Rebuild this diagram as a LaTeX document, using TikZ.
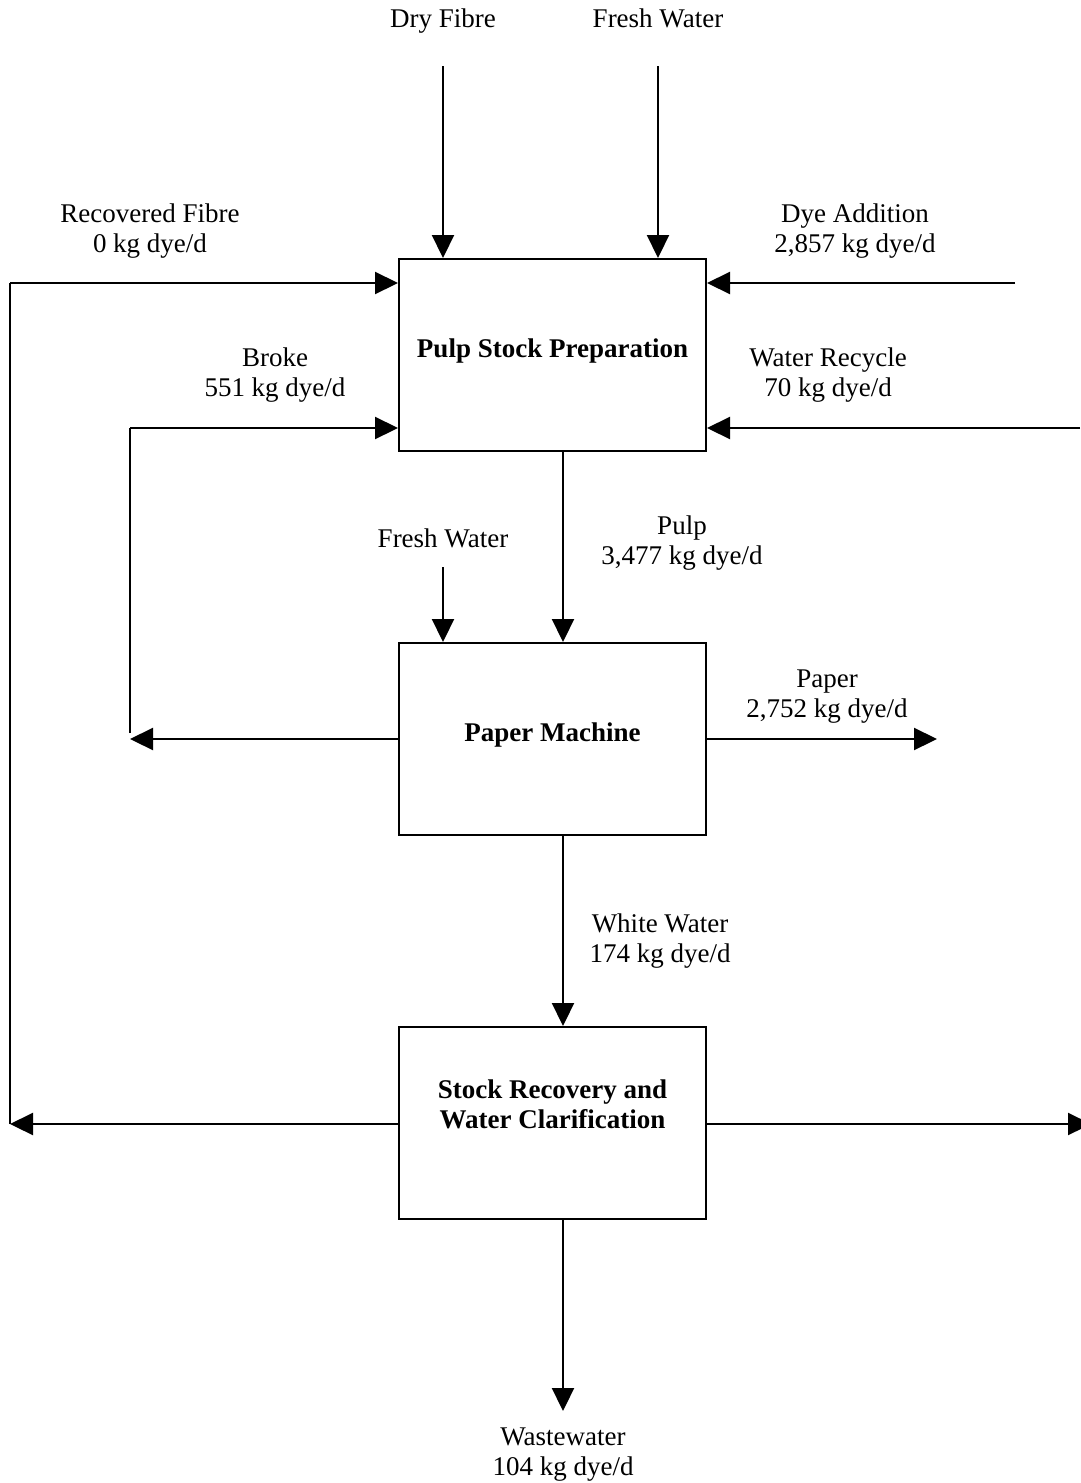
\documentclass[tikz,border=0pt]{standalone}
\usepackage{fontspec}
\setmainfont{Liberation Serif}
\usetikzlibrary{arrows.meta}
\begin{document}
\begin{tikzpicture}[x=1pt,y=-1pt,
  proc/.style={draw,line width=2pt,minimum width=307pt,minimum height=192pt,inner sep=0pt},
  ptext/.style={align=center,inner sep=0pt,yshift=-3pt,font=\fontsize{27}{30}\selectfont\bfseries},
  lbl/.style={align=center,inner sep=0pt,yshift=-3pt,font=\fontsize{27}{30}\selectfont},
  one/.style={lbl,text height=19pt,text depth=6pt,yshift=2pt},
  flow/.style={line width=2.2pt,-{Triangle[length=23pt,width=22pt]}},
  plain/.style={line width=2.2pt}]
\fill[white] (0,0) rectangle (1080,1483);
\useasboundingbox (0,0) rectangle (1080,1483);
% boxes
\node[proc] (psp) at (552.5,355) {};
\node[proc] (pm) at (552.5,739) {};
\node[proc] (sr) at (552.5,1123) {};
\node[ptext] (tpsp) at (552.5,348) {Pulp Stock Preparation};
\node[ptext] (tpm) at (552.5,732) {Paper Machine};
\node[ptext] (tsr) at (552.5,1101) {Stock Recovery and\\Water Clarification};
% coordinates
\coordinate (dfs) at (443,66);
\coordinate (fws) at (658,66);
\coordinate (rfb) at (10,1124);
\coordinate (rft) at (10,283);
\coordinate (das) at (1015,283);
\coordinate (brb) at (130,739);
\coordinate (brt) at (130,428);
\coordinate (wrs) at (1080,428);
\coordinate (fw2) at (443,567);
\coordinate (ppe) at (937,739);
\coordinate (sre) at (1091,1124);
\coordinate (wwe) at (563,1411);
% labels
\node[one] (ldf) at (443,20) {Dry Fibre};
\node[one] (lfw) at (658,20) {Fresh Water};
\node[lbl] (lrf) at (150,228) {Recovered Fibre\\0 kg dye/d};
\node[lbl] (lda) at (855,228) {Dye Addition\\2,857 kg dye/d};
\node[lbl] (lbr) at (275,372) {Broke\\551 kg dye/d};
\node[lbl] (lwr) at (828,372) {Water Recycle\\70 kg dye/d};
\node[one] (lfw2) at (443,540) {Fresh Water};
\node[lbl] (lpu) at (682,540) {Pulp\\3,477 kg dye/d};
\node[lbl] (lpa) at (827,694) {Paper\\2,752 kg dye/d};
\node[lbl] (lww) at (660,938) {White Water\\174 kg dye/d};
\node[lbl] (lwa) at (563,1452) {Wastewater\\104 kg dye/d};
% flows
\draw[flow] (dfs) -- (dfs |- psp.north);
\draw[flow] (fws) -- (fws |- psp.north);
\draw[plain] (rfb) -- (rft);
\draw[flow] (rft) -- (rft -| psp.west);
\draw[flow] (das) -- (das -| psp.east);
\draw[flow] (pm.west) -- (brb);
\draw[plain] ([yshift=6pt]brb) -- (brt);
\draw[flow] (brt) -- (brt -| psp.west);
\draw[flow] (wrs) -- (wrs -| psp.east);
\draw[flow] (psp.south -| 563,0) -- (pm.north -| 563,0);
\draw[flow] (fw2) -- (fw2 |- pm.north);
\draw[flow] (pm.east) -- (ppe);
\draw[flow] (pm.south -| 563,0) -- (sr.north -| 563,0);
\draw[flow] (sr.west |- rfb) -- (rfb);
\draw[flow] (sr.east |- sre) -- (sre);
\draw[flow] (sr.south -| 563,0) -- (wwe);
\end{tikzpicture}
\end{document}
